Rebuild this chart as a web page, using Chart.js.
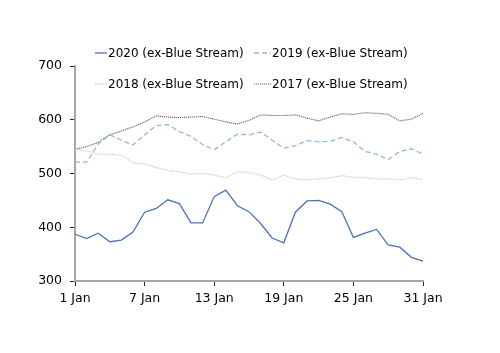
<!DOCTYPE html>
<html>
<head>
<meta charset="utf-8">
<script src="https://cdn.jsdelivr.net/npm/chart.js@4"></script>
<style>
  html, body { margin: 0; padding: 0; background: #fff; }
  #wrap { position: relative; width: 500px; height: 353px; }
  #legend { position: absolute; left: 0; top: 0; width: 500px; font-family: "DejaVu Sans", sans-serif; font-size: 12px; color: #000; }
  .item { position: absolute; display: flex; align-items: center; white-space: nowrap; height: 14px; }
  .item svg { margin-right: 1px; }
</style>
</head>
<body>
<div id="wrap">
  <canvas id="c" width="500" height="353"></canvas>
  <div id="legend"></div>
</div>
<script>
const days = ['1 Jan','2 Jan','3 Jan','4 Jan','5 Jan','6 Jan','7 Jan','8 Jan','9 Jan','10 Jan','11 Jan','12 Jan','13 Jan','14 Jan','15 Jan','16 Jan','17 Jan','18 Jan','19 Jan','20 Jan','21 Jan','22 Jan','23 Jan','24 Jan','25 Jan','26 Jan','27 Jan','28 Jan','29 Jan','30 Jan','31 Jan'];
const shownTicks = ['1 Jan','7 Jan','13 Jan','19 Jan','25 Jan','31 Jan'];
const seriesNames = ['2020 (ex-Blue Stream)','2019 (ex-Blue Stream)','2018 (ex-Blue Stream)','2017 (ex-Blue Stream)'];
const y2020 = [387,379,389,373,376,391,428,435,451,444,408,408,457,469,440,429,407,380,371,428,449,450,443,429,381,389,396,367,363,344,337];
const y2019 = [521,521,555,572,562,553,572,589,591,578,569,554,544,559,573,572,577,562,547,552,561,559,560,567,559,541,536,526,541,546,536];
const y2018 = [545,542,536,536,534,520,518,511,506,503,499,500,497,492,503,502,497,488,497,490,488,490,492,496,493,492,490,490,488,492,489];
const y2017 = [545,550,558,572,579,587,596,607,605,604,605,606,601,596,592,599,609,608,608,609,603,598,605,611,610,613,612,610,598,601,612];

const styles = [
  { color: '#4a72c0', dash: [], width: 1.3 },
  { color: '#8db8e8', dash: [5, 3], width: 1.3 },
  { color: '#d0d0d0', dash: [1.5, 1], width: 1.3 },
  { color: '#666666', dash: [1.2, 0.8], width: 1.1 }
];
const values = [y2020, y2019, y2018, y2017];

const datasets = seriesNames.map((name, i) => ({
  label: name,
  data: values[i],
  borderColor: styles[i].color,
  backgroundColor: styles[i].color,
  borderDash: styles[i].dash,
  borderWidth: styles[i].width,
  pointRadius: 0,
  tension: 0,
  fill: false
}));

// HTML legend
const legendPos = [
  { x: 95, y: 46 }, { x: 254, y: 46 },
  { x: 95, y: 77 }, { x: 254, y: 77 }
];
const legend = document.getElementById('legend');
seriesNames.forEach((name, i) => {
  const d = document.createElement('div');
  d.className = 'item';
  d.style.left = legendPos[i].x + 'px';
  d.style.top = legendPos[i].y + 'px';
  const s = styles[i];
  const sw = i === 0 || i === 2 ? 12 : 17;
  d.innerHTML = '<svg width="' + sw + '" height="6"><line x1="0" y1="3" x2="' + sw + '" y2="3" stroke="' + s.color +
    '" stroke-width="' + s.width + '"' + (s.dash.length ? ' stroke-dasharray="' + s.dash.join(',') + '"' : '') + '/></svg><span>' + name + '</span>';
  legend.appendChild(d);
});

const axisFont = { family: 'DejaVu Sans', size: 12.5 };
new Chart(document.getElementById('c'), {
  type: 'line',
  data: { labels: days, datasets },
  options: {
    responsive: false,
    animation: false,
    layout: { padding: { top: 66, right: 77, left: 0, bottom: 0 } },
    plugins: { legend: { display: false }, tooltip: { enabled: false } },
    scales: {
      x: {
        offset: false,
        border: { color: '#a6a6a6', width: 2 },
        grid: { drawOnChartArea: false, drawTicks: true, tickLength: 5, color: '#222', lineWidth: 1 },
        ticks: {
          autoSkip: false, maxRotation: 0, padding: 5, color: '#000', font: axisFont,
          callback: function(v, i) { const l = days[i]; return shownTicks.includes(l) ? l : null; }
        },
        afterFit: s => { s.height = 72; }
      },
      y: {
        min: 300, max: 700,
        border: { color: '#a6a6a6', width: 2 },
        grid: { drawOnChartArea: false, drawTicks: true, tickLength: 5, color: '#222', lineWidth: 1 },
        ticks: { stepSize: 100, padding: 8, color: '#000', font: axisFont },
        afterFit: s => { s.width = 75; }
      }
    }
  }
});
</script>
</body>
</html>
